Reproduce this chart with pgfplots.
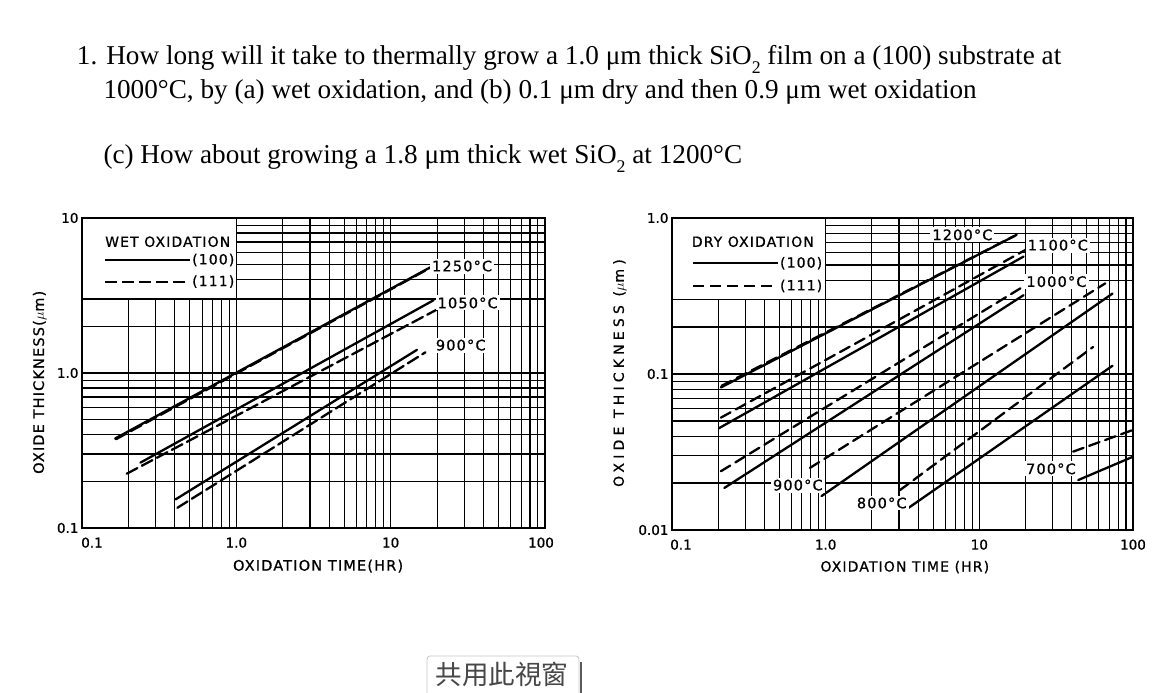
\documentclass[border=0pt]{standalone}
\usepackage{fontspec}
\usepackage{pgfplots}
\pgfplotsset{compat=1.18}
\setmainfont{Liberation Serif}
\newfontfamily\plotfont[LetterSpace=8, FakeBold=0.8]{DejaVu Sans}
\newfontfamily\tickfont[FakeBold=0.8]{DejaVu Sans}
\newfontfamily\widefont[LetterSpace=30, FakeBold=0.8]{DejaVu Sans}
\newfontfamily\cjk{Noto Sans CJK TC}
\newcommand\sub[1]{\raisebox{-0.3em}{\fontsize{17.8}{18}\selectfont #1}}

\tikzset{
  d100/.style={solid},
  d111/.style={dash pattern=on 12pt off 5pt},
  d111b/.style={dash pattern=on 11pt off 6pt},
  tlab/.style={fill=white, inner sep=2pt, font=\plotfont\fontsize{14.5}{15}\selectfont},
  leg/.style={anchor=west, inner sep=0pt, font=\plotfont\fontsize{14}{15}\selectfont},
}
\pgfplotsset{
  every axis/.append style={
    major grid style={black, line width=1.5pt},
    minor grid style={black, line width=1.1pt},
    major tick length=0pt, minor tick length=0pt,
    axis line style={black, line width=1.5pt},
    ticklabel style={font=\tickfont\fontsize{13.5}{14}\selectfont},
    xticklabel style={yshift=-6pt},
    label style={font=\plotfont\fontsize{14.5}{15}\selectfont},
  },
  every axis plot/.append style={black, line width=2.3pt, line cap=round},
}

\begin{document}
\begin{tikzpicture}
\useasboundingbox (0pt,0pt) rectangle (1175pt,693pt);

% question text
\begin{scope}[every node/.style={anchor=base west, inner sep=0pt, font=\fontsize{27.2}{32}\selectfont}]
\node at (76.7pt,628pt) {1. How long will it take to thermally grow a 1.0 μm thick SiO\sub{2} film on a (100) substrate at};
\node at (103.3pt,594.7pt) {1000°C, by (a) wet oxidation, and (b) 0.1 μm dry and then 0.9 μm wet oxidation};
\node at (103.3pt,529pt) {(c) How about growing a 1.8 μm thick wet SiO\sub{2}\ at 1200°C};
\end{scope}

% ---- wet oxidation
\begin{axis}[scale only axis, anchor=south west, at={(82pt,165pt)}, width=463pt, height=310pt,
  xmode=log, ymode=log,
  xmin=0.1, xmax=100, ymin=0.1, ymax=10,
  xtick={0.1,1,10,100}, xticklabels={{\hspace*{20pt}0.1},1.0,10,{100\hspace*{8pt}}},
  minor xtick={0.2,0.3,0.4,0.5,0.6,0.7,0.8,0.9,2,3,4,5,6,7,8,9,20,30,40,50,60,70,80,90},
  ytick={0.1,1,10}, yticklabels={0.1,1.0,10},
  minor ytick={0.2,0.3,0.4,0.5,0.6,0.7,0.8,0.9,2,3,4,5,6,7,8,9},
  grid=both,
  xlabel={OXIDATION TIME(HR)},
  ylabel={OXIDE THICKNESS($\mu$m)},
  xlabel style={at={(axis description cs:0.51,-0.123)}, anchor=center},
  ylabel style={at={(axis description cs:-0.091,0.47)}, anchor=center},
]
% 1250 C
\addplot[d100] coordinates {(0.164,0.378) (18.1,4.81)};
\addplot[d111] coordinates {(0.166,0.374) (18.0,4.76)};
% 1050 C
\addplot[d100] coordinates {(0.239,0.264) (19.0,2.95)};
\addplot[d111] coordinates {(0.195,0.224) (20.0,2.57)};
% 900 C
\addplot[d100] coordinates {(0.404,0.153) (14.8,1.41)};
\addplot[d111] coordinates {(0.415,0.135) (16.8,1.36)};

\draw[fill=white, line width=1.3pt] (rel axis cs:0,1) rectangle (axis cs:1,3);
\node[leg] at (rel axis cs:0.0497,0.9235) {WET OXIDATION};
\draw[line width=1.6pt] (rel axis cs:0.0497,0.8645) -- (rel axis cs:0.233,0.8645);
\node[leg] at (rel axis cs:0.2376,0.8645) {(100)};
\draw[line width=1.6pt, d111] (rel axis cs:0.0497,0.7945) -- (rel axis cs:0.233,0.7945);
\node[leg] at (rel axis cs:0.2376,0.7945) {(111)};

\node[tlab] at (rel axis cs:0.821,0.845) {1250°C};
\node[tlab] at (rel axis cs:0.833,0.726) {1050°C};
\node[tlab] at (rel axis cs:0.818,0.590) {900°C};
\end{axis}

% ---- dry oxidation
\begin{axis}[scale only axis, anchor=south west, at={(672pt,163pt)}, width=461pt, height=312pt,
  xmode=log, ymode=log,
  xmin=0.1, xmax=100, ymin=0.01, ymax=1,
  xtick={0.1,1,10,100}, xticklabels={{\hspace*{18pt}0.1},1.0,10,100},
  minor xtick={0.2,0.3,0.4,0.5,0.6,0.7,0.8,0.9,2,3,4,5,6,7,8,9,20,30,40,50,60,70,80,90},
  ytick={0.01,0.1,1}, yticklabels={0.01,0.1,1.0},
  minor ytick={0.02,0.03,0.04,0.05,0.06,0.07,0.08,0.09,0.2,0.3,0.4,0.5,0.6,0.7,0.8,0.9},
  grid=both,
  xlabel={OXIDATION TIME (HR)},
  ylabel={OXIDE THICKNESS ($\mu$m)},
  xlabel style={at={(axis description cs:0.505,-0.119)}, anchor=center, font=\plotfont\fontsize{14}{15}\selectfont},
  ylabel style={at={(axis description cs:-0.113,0.503)}, anchor=center, font=\widefont\fontsize{14}{15}\selectfont},
]
% 1200 C
\addplot[d100] coordinates {(0.208,0.082) (17.5,0.78)};
\addplot[d111b] coordinates {(0.210,0.084) (17.0,0.77)};
% 1100 C
\addplot[d111b] coordinates {(0.208,0.0525) (20,0.625)};
\addplot[d100] coordinates {(0.202,0.0449) (19.4,0.566)};
% 1000 C
\addplot[d111b] coordinates {(0.208,0.0238) (20,0.371)};
\addplot[d100] coordinates {(0.219,0.0186) (19.4,0.32)};
% 900 C
\addplot[d111b] coordinates {(0.79,0.025) (66,0.381)};
\addplot[d100] coordinates {(0.94,0.0165) (73.6,0.328)};
% 800 C
\addplot[d111b] coordinates {(3.04,0.018) (55,0.149)};
\addplot[d100] coordinates {(3.44,0.0138) (73.6,0.113)};
% 700 C
\addplot[d111b] coordinates {(40.8,0.0318) (100,0.0438)};
\addplot[d100] coordinates {(44,0.0209) (100,0.0295)};

\draw[fill=white, line width=1.3pt] (rel axis cs:0,1) rectangle (axis cs:1,0.3);
\node[leg] at (rel axis cs:0.0427,0.924) {DRY OXIDATION};
\draw[line width=1.8pt] (rel axis cs:0.0456,0.855) -- (rel axis cs:0.2299,0.855);
\node[leg] at (rel axis cs:0.234,0.855) {(100)};
\draw[line width=1.8pt, d111b] (rel axis cs:0.0456,0.782) -- (rel axis cs:0.2299,0.782);
\node[leg] at (rel axis cs:0.234,0.782) {(111)};

\node[tlab] at (rel axis cs:0.630,0.946) {1200°C};
\node[tlab] at (rel axis cs:0.837,0.913) {1100°C};
\node[tlab] at (rel axis cs:0.834,0.796) {1000°C};
\node[tlab] at (rel axis cs:0.273,0.144) {900°C};
\node[tlab] at (rel axis cs:0.455,0.0865) {800°C};
\node[tlab] at (rel axis cs:0.822,0.196) {700°C};
\end{axis}

% button
\draw[rounded corners=3pt, draw=black!22, fill=white, line width=0.8pt] (427pt,-6pt) rectangle (579pt,37pt);
\draw[black!65, line width=1.6pt] (581pt,0pt) -- (581pt,31pt);
\node[font=\cjk\fontsize{26.5}{27}\selectfont, text=black!72, inner sep=0pt] at (502pt,19pt) {共用此視窗};
\end{tikzpicture}
\end{document}
